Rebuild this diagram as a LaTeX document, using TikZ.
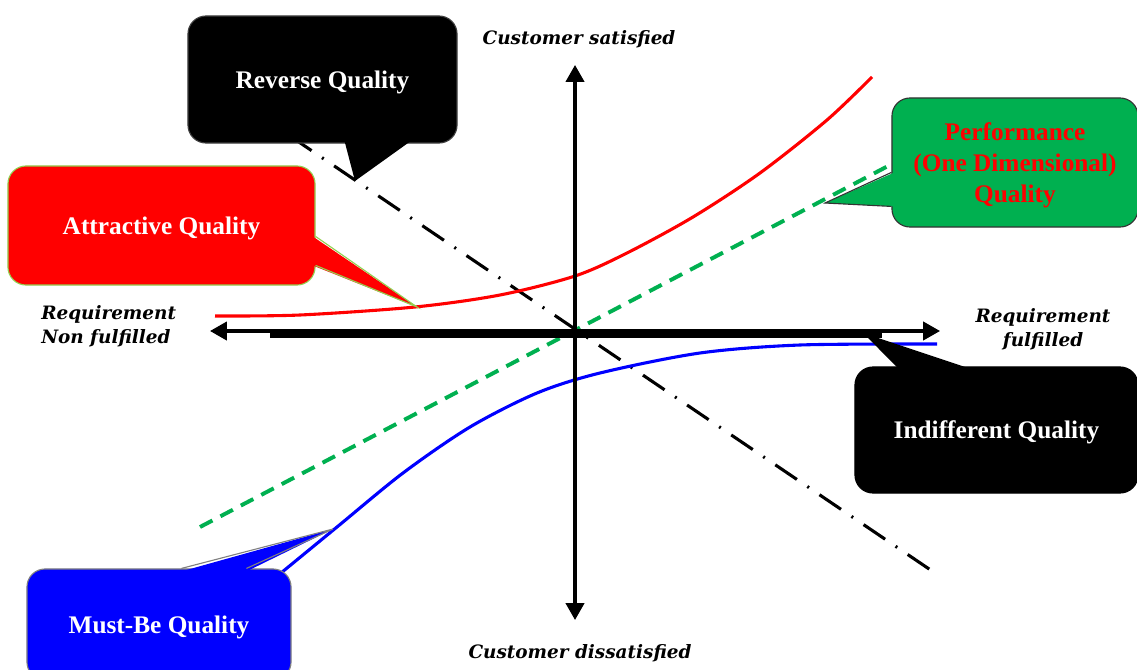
\documentclass[tikz,border=0pt]{standalone}
\usepackage{fontspec}
\setmainfont{Liberation Serif}
\newfontfamily\axisfont{DejaVu Serif}
\usetikzlibrary{arrows.meta,calc}
\definecolor{perfgreen}{HTML}{00B050}
\definecolor{attrline}{HTML}{92D050}

\begin{document}
\begin{tikzpicture}[x=0.025cm,y=-0.025cm,
	box/.style={rounded corners=0.45cm, inner sep=0pt, align=center, line width=0.8pt, text depth=0pt,
		font=\bfseries\fontsize{18}{22}\selectfont},
	axislabel/.style={inner sep=0pt, font=\axisfont\bfseries\itshape\fontsize{13.1}{17}\selectfont},
	axis/.style={line width=2.2pt, {Triangle[length=12pt,width=13pt]}-{Triangle[length=12pt,width=13pt]}},
	curve/.style={line width=2.2pt}]
	\useasboundingbox (0,0) rectangle (1137,670);
	\clip (0,0) rectangle (1137,670);
	
	\coordinate (top) at (575,65);
	\coordinate (bottom) at (575,620);
	\coordinate (left) at (210,331);
	\coordinate (right) at (940,331);
	\coordinate (barl) at (270,333);
	\coordinate (barr) at (882,333);
	
	\draw[curve, perfgreen, line width=2.8pt, dash pattern=on 10pt off 6.4pt] (200,527) -- (890,165);
	\draw[curve, dash pattern=on 18.5pt off 9pt on 1.4pt off 9pt] (290,136) -- (935,573);
	\draw[curve, red] plot[smooth] coordinates {(215,316) (300,315) (415,307) (500,295) (575,276) (627,253) (693,217) (760,173) (827,120) (872,77)};
	\draw[curve, blue] plot[smooth] coordinates {(270,582) (337,527) (403,473) (470,427) (537,393) (600,373) (700,353) (800,345) (937,344)};
	
	\draw[axis] (bottom) -- (top);
	\draw[axis] (left) -- (right);
	\draw[line width=6.4pt] (barl) -- (barr);
	
	\node[axislabel] (sat) at (579,39) {Customer satisfied};
	\node[axislabel] (dissat) at (580,653) {Customer dissatisfied};
	\node[axislabel, anchor=west, align=left] (nonful) at (41,326) {Requirement\\Non fulfilled};
	\node[axislabel, align=center] (ful) at (1043,329) {Requirement\\fulfilled};
	
	\coordinate (revtip) at (355,181);
	\coordinate (attrtip) at (417,307);
	\coordinate (perftip) at (825,203);
	\coordinate (inditip) at (863,333);
	\coordinate (musttip) at (333,529);
	
	\node[box, fill=black, draw=black!75, text=white, minimum width=6.725cm, minimum height=3.175cm] (rev) at (322.5,79.5) {Reverse Quality};
	\fill[black] ($(rev.south west)+(157,-3)$) -- (revtip) -- ($(rev.south west)+(224,-3)$) -- cycle;
	
	\node[box, fill=red, draw=attrline, text=white, minimum width=7.675cm, minimum height=2.975cm] (attr) at (161.5,225.5) {Attractive Quality};
	\fill[red] ($(attr.north east)+(-3,71)$) -- (attrtip) -- ($(attr.north east)+(-3,100)$) -- cycle;
	\draw[attrline, line width=0.8pt] ($(attr.north east)+(0,71)$) -- (attrtip) -- ($(attr.north east)+(0,100)$);
	
	\node[box, fill=perfgreen, draw=black!80, text=red, minimum width=6.15cm, minimum height=3.225cm] (perf) at (1015,162.5) {Performance\\(One Dimensional)\\Quality};
	\fill[perfgreen] ($(perf.north west)+(3,75)$) -- (perftip) -- ($(perf.north west)+(3,109)$) -- cycle;
	\draw[black!80, line width=0.8pt] ($(perf.north west)+(0,75)$) -- (perftip) -- ($(perf.north west)+(0,109)$);
	
	\node[box, fill=black, draw=black, text=white, minimum width=7.075cm, minimum height=3.15cm] (indiff) at (996.5,430) {Indifferent Quality};
	\fill[black] ($(indiff.north west)+(45,3)$) -- (inditip) -- ($(indiff.north west)+(118,3)$) -- cycle;
	
	\node[box, fill=blue, draw=black!50, text=white, minimum width=6.6cm, minimum height=2.775cm] (must) at (159,624.5) {Must-Be Quality};
	\fill[blue] ($(must.north west)+(155,3)$) -- (musttip) -- ($(must.north west)+(220,3)$) -- cycle;
	\draw[black!50, line width=0.8pt] ($(must.north west)+(155,0)$) -- (musttip) -- ($(must.north west)+(220,0)$);
\end{tikzpicture}
\end{document}
